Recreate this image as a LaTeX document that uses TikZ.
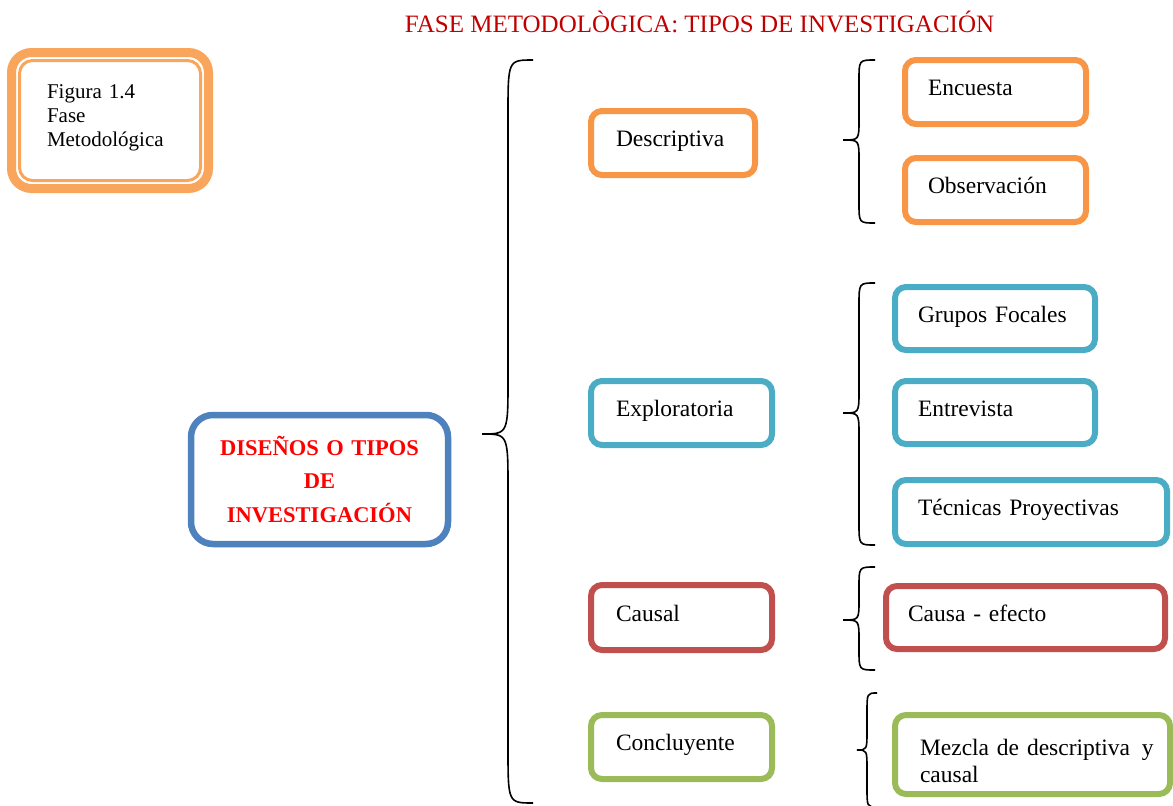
\documentclass[tikz,border=0pt]{standalone}
\usepackage{fontspec}
\setmainfont{Liberation Serif}
\definecolor{figorange}{HTML}{F9A55B}
\definecolor{corange}{HTML}{F79646}
\definecolor{cteal}{HTML}{4BACC6}
\definecolor{cred}{HTML}{C0504D}
\definecolor{cgreen}{HTML}{9BBB59}
\definecolor{cblue}{HTML}{4F81BD}
\definecolor{ctitle}{HTML}{C00000}
\definecolor{cmain}{HTML}{FF0000}

% curly brace: vertical x, end x, tip x, top y, tip y, bottom y, curve length
\newcommand{\curlybrace}[7]{%
  \draw[bracestyle] (#2,#4) .. controls (#1,#4) .. (#1,#4+#7) -- (#1,#5-#7)
    .. controls (#1,#5) .. (#3,#5) .. controls (#1,#5) .. (#1,#5+#7)
    -- (#1,#6-#7) .. controls (#1,#6) .. (#2,#6);}

\tikzset{
  bracestyle/.style={black, line width=1.6pt},
  box/.style={draw=#1, line width=6pt, rounded corners=11pt, fill=white,
    outer sep=0pt, inner ysep=0pt, align=left,
    font=\fontsize{23.5}{27}\selectfont, text height=14pt, text depth=7pt},
}

\begin{document}
\begin{tikzpicture}[x=1pt, y=-1pt]
\useasboundingbox (0,0) rectangle (1173,806);
\fill[white] (0,0) rectangle (1173,806);

% heading
\node[font=\fontsize{25}{30}\selectfont, text=ctitle, anchor=base, inner sep=0pt]
  (title) at (699.5,32) {FASE METODOLÒGICA: TIPOS DE INVESTIGACIÓN};

% caption box with thick-thin frame
\node[draw=figorange, line width=9pt, rounded corners=20pt, outer sep=0pt,
  minimum width=197pt, minimum height=136pt, inner xsep=35.5pt, inner ysep=0pt,
  text width=126pt, align=left, font=\fontsize{21}{24}\selectfont,
  text height=14pt, text depth=59pt] (fig) at (110,120.5)
  {Figura 1.4\\Fase\\Metodológica};
\draw[figorange, line width=3pt, rounded corners=13pt]
  ([shift={(8,8)}]fig.north west) rectangle ([shift={(-8,-8)}]fig.south east);

% main topic
\node[draw=cblue, line width=6.5pt, rounded corners=22pt, outer sep=0pt,
  minimum width=257pt, minimum height=129pt, inner xsep=10pt, inner ysep=0pt,
  text width=237pt, align=center, text=cmain,
  font=\bfseries\fontsize{22.5}{33.5}\selectfont,
  text height=16pt, text depth=65pt] (main) at (319.5,479.5)
  {DISEÑOS O TIPOS\\DE\\INVESTIGACIÓN};

% research types
\node[box=corange, minimum width=164pt, minimum height=64pt, inner xsep=25pt, text width=114pt]
  (desc) at (673,143) {Descriptiva};
\node[box=cteal, minimum width=181pt, minimum height=64pt, inner xsep=25pt, text width=131pt]
  (expl) at (681.5,413) {Exploratoria};
\node[box=cred, minimum width=181pt, minimum height=65pt, inner xsep=25pt, text width=131pt]
  (caus) at (681.5,617.5) {Causal};
\node[box=cgreen, minimum width=181pt, minimum height=64pt, inner xsep=25pt, text width=131pt]
  (conc) at (681.5,747) {Concluyente};

% techniques
\node[box=corange, minimum width=181pt, minimum height=64pt, inner xsep=23pt, text width=135pt]
  (enc) at (995.5,92) {Encuesta};
\node[box=corange, minimum width=181pt, minimum height=64pt, inner xsep=23pt, text width=135pt]
  (obs) at (995.5,190) {Observación};
\node[box=cteal, minimum width=200pt, minimum height=63pt, inner xsep=23pt, text width=154pt]
  (grup) at (995,318.5) {Grupos Focales};
\node[box=cteal, minimum width=200pt, minimum height=63pt, inner xsep=23pt, text width=154pt]
  (entr) at (995,412.5) {Entrevista};
\node[box=cteal, minimum width=272pt, minimum height=64pt, inner xsep=23pt, text width=226pt]
  (tec) at (1031,512) {Técnicas Proyectivas};
\node[box=cred, minimum width=279pt, minimum height=63pt, inner xsep=22pt, text width=235pt]
  (caef) at (1025.5,617.5) {Causa - efecto};
\node[box=cgreen, minimum width=275pt, minimum height=79pt, inner xsep=25pt, text width=225pt,
  text height=16pt, text depth=15pt]
  (mez) at (1032.5,754.5) {\mbox{Mezcla de descriptiva\hspace{0.5em}y}\\causal};

% braces
\curlybrace{508}{533}{482}{60}{434}{803}{55}
\curlybrace{859}{875}{843}{60}{140}{223}{20}
\curlybrace{859}{875}{843}{283}{413}{545}{22}
\curlybrace{859}{875}{843}{567}{620}{670}{20}
\curlybrace{867}{877}{857}{693}{750}{807}{20}
\end{tikzpicture}
\end{document}
